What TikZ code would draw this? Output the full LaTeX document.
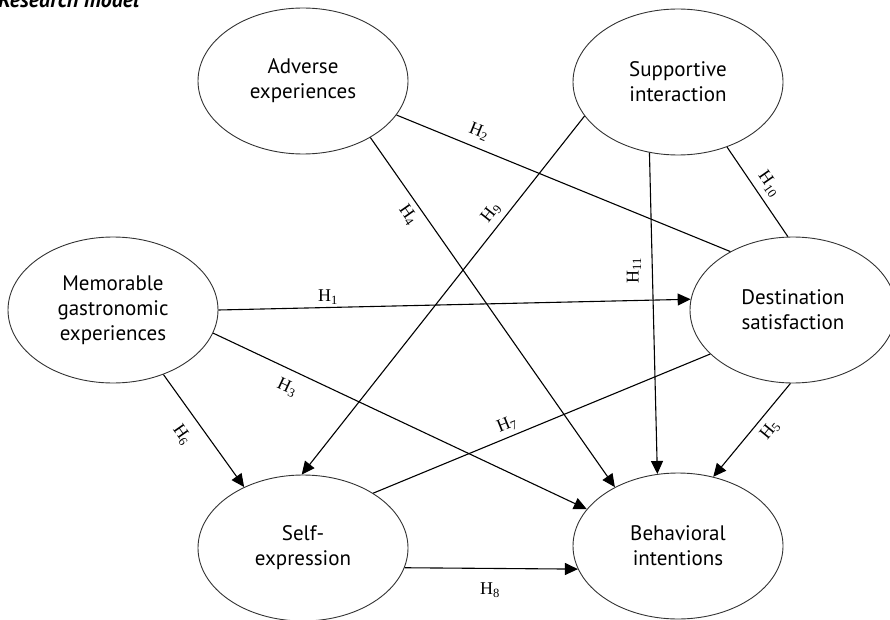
\documentclass[tikz,border=0pt]{standalone}
\usepackage{fontspec}
\setmainfont{PT Sans}
\newfontfamily\labfont{Liberation Serif}
\usetikzlibrary{shapes.geometric,arrows.meta}
\begin{document}
\begin{tikzpicture}[x=1pt,y=-1pt,
  cons/.style={ellipse,draw=black!80,line width=0.9pt,inner sep=0pt,
    minimum width=210pt,minimum height=146pt,align=center,
    font=\fontsize{21}{25}\selectfont},
  conn/.style={line width=1.1pt,draw=black},
  arr/.style={conn,-{Triangle[length=13pt,width=12pt]}},
  hyp/.style={font=\labfont\fontsize{18}{18}\selectfont,inner sep=0pt}]
\useasboundingbox (0,0) rectangle (890,620);
\node[anchor=base west,inner sep=0pt,font=\bfseries\itshape\fontsize{22}{22}\selectfont] (title) at (-2,8) {Research model};
% constructs
\node[cons] (adv) at (303,81) {Adverse\\experiences};
\node[cons] (sup) at (678,82) {Supportive\\interaction};
\node[cons] (mem) at (113,310) {Memorable\\gastronomic\\experiences};
\node[cons,minimum width=206pt] (dest) at (793,310) {Destination\\satisfaction};
\node[cons] (self) at (303,548) {Self-\\expression};
\node[cons] (beh) at (678,546) {Behavioral\\intentions};
% connectors
\draw[arr] (mem.0) -- (dest.174);
\draw[conn] (adv.-20) -- (dest.137);
\draw[arr] (mem.-13.5) -- (beh.158.7);
\draw[arr] (adv.-40) -- (beh.137);
\draw[arr] (sup.200.6) -- (self.91);
\draw[conn] (sup.-53.6) -- (dest.94);
\draw[arr] (sup.-112) -- (beh.106);
\draw[arr] (dest.-92) -- (beh.63);
\draw[arr] (mem.-52.6) -- (self.134);
\draw[conn] (self.38.2) -- (dest.208.8);
\draw[arr] (self.-11) -- (beh.193.4);
% labels
\node[hyp] (h1) at (328,297) {H\textsubscript{1}};
\node[hyp,rotate=-22] (h2) at (479,132) {H\textsubscript{2}};
\node[hyp,rotate=-25] (h3) at (287,388) {H\textsubscript{3}};
\node[hyp,rotate=-55] (h4) at (408,215) {H\textsubscript{4}};
\node[hyp,rotate=51.6] (h9) at (491,213) {H\textsubscript{9}};
\node[hyp,rotate=-55] (h10) at (769,184) {H\textsubscript{10}};
\node[hyp,rotate=90] (h11) at (634,271) {H\textsubscript{11}};
\node[hyp,rotate=50.7] (h5) at (770,430) {H\textsubscript{5}};
\node[hyp,rotate=-55] (h6) at (182,435) {H\textsubscript{6}};
\node[hyp,rotate=22] (h7) at (507,425) {H\textsubscript{7}};
\node[hyp] (h8) at (490,590) {H\textsubscript{8}};
\end{tikzpicture}
\end{document}
